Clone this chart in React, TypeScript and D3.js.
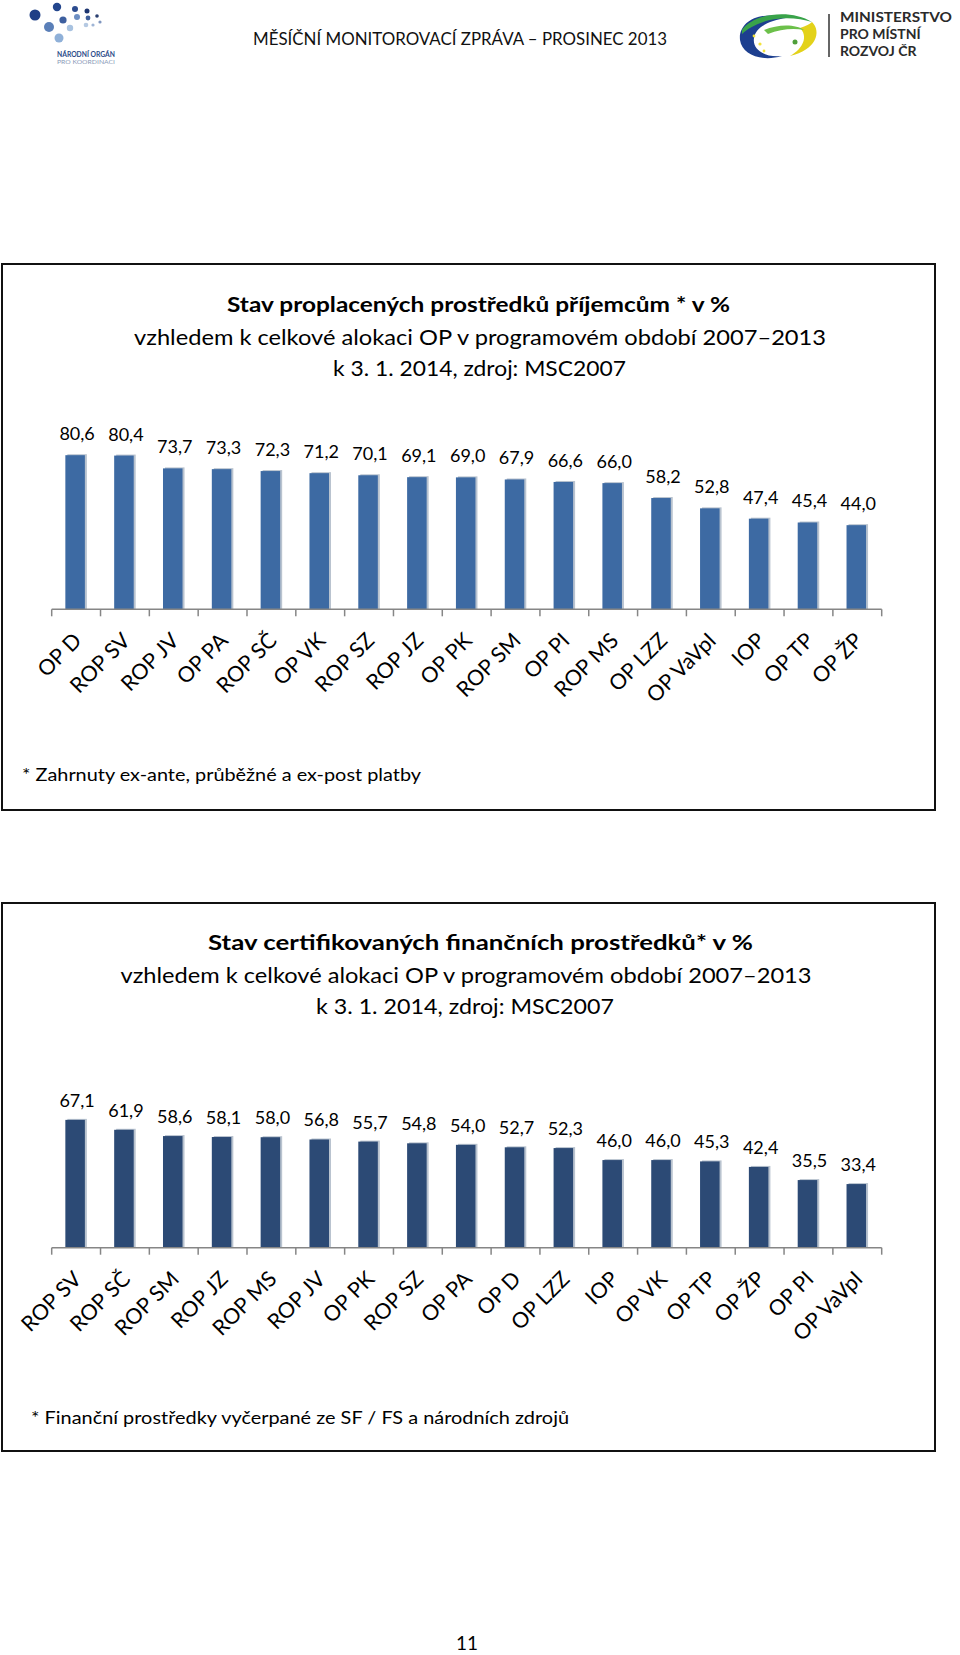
import React from 'react';
import * as d3 from 'd3';

const cats1 = ["OP D", "ROP SV", "ROP JV", "OP PA", "ROP SČ", "OP VK", "ROP SZ", "ROP JZ", "OP PK", "ROP SM", "OP PI", "ROP MS", "OP LZZ", "OP VaVpI", "IOP", "OP TP", "OP ŽP"];
const vals1 = [80.6, 80.4, 73.7, 73.3, 72.3, 71.2, 70.1, 69.1, 69.0, 67.9, 66.6, 66.0, 58.2, 52.8, 47.4, 45.4, 44.0];

const cats2 = ["ROP SV", "ROP SČ", "ROP SM", "ROP JZ", "ROP MS", "ROP JV", "OP PK", "ROP SZ", "OP PA", "OP D", "OP LZZ", "IOP", "OP VK", "OP TP", "OP ŽP", "OP PI", "OP VaVpI"];
const vals2 = [67.1, 61.9, 58.6, 58.1, 58.0, 56.8, 55.7, 54.8, 54.0, 52.7, 52.3, 46.0, 46.0, 45.3, 42.4, 35.5, 33.4];

const title1 = ["Stav proplacených prostředků příjemcům * v %", "vzhledem k celkové alokaci OP v programovém období 2007–2013", "k 3. 1. 2014, zdroj: MSC2007"];
const title2 = ["Stav certifikovaných finančních prostředků* v %", "vzhledem k celkové alokaci OP v programovém období 2007–2013", "k 3. 1. 2014, zdroj: MSC2007"];
const note1 = "* Zahrnuty ex-ante, průběžné a ex-post platby";
const note2 = "* Finanční prostředky vyčerpané ze SF / FS a národních zdrojů";
const headerText = "MĚSÍČNÍ MONITOROVACÍ ZPRÁVA – PROSINEC 2013";
const pageNo = "11";

const FONT = "Lato, 'Open Sans', sans-serif";
const fmt = (v: number) => d3.format(".1f")(v).replace(".", ",");

type ChartProps = {
  cats: string[];
  vals: number[];
  axisY: number;
  ppu: number;
  color: string;
  labelGap: number;
};

function BarChart({ cats, vals, axisY, ppu, color, labelGap }: ChartProps) {
  const x = d3.scaleBand<string>().domain(cats).range([51.7, 881.7]).paddingInner(0.6).paddingOuter(0.3);
  const y = d3.scaleLinear().domain([0, 90]).range([axisY, axisY - 90 * ppu]);
  const bw = x.bandwidth();
  const step = x.step();
  const ticks = d3.range(cats.length + 1).map((i) => 51.7 + i * step);
  return (
    <g>
      {cats.map((c, i) => {
        const bx = (x(c) as number) - 1;
        const top = y(vals[i]);
        return (
          <g key={c}>
            <rect x={bx + 2} y={top - 1} width={bw} height={axisY - top + 1} fill="#b9c3cf" />
            <rect x={bx} y={top} width={bw} height={axisY - top} fill={color} />
            <text x={bx + bw / 2 + 2} y={top - labelGap} textAnchor="middle" fontFamily={FONT} fontSize={18} fill="#000">
              {fmt(vals[i])}
            </text>
          </g>
        );
      })}
      <line x1={51.7} x2={881.7} y1={axisY} y2={axisY} stroke="#868686" strokeWidth={1.5} />
      {ticks.map((t, i) => (
        <line key={i} x1={t} x2={t} y1={axisY} y2={axisY + 7} stroke="#868686" strokeWidth={1.5} />
      ))}
      {cats.map((c) => {
        const cx = (x(c) as number) + bw / 2;
        return (
          <text key={c} transform={`translate(${cx + 1},${axisY + 27}) rotate(-45)`} textAnchor="end" dominantBaseline="central" fontFamily={FONT} fontSize={21.5} fill="#000">
            {c}
          </text>
        );
      })}
    </g>
  );
}

function Title({ lines, ys, widths, centers }: { lines: string[]; ys: number[]; widths: number[]; centers: number[] }) {
  return (
    <g fontFamily={FONT} fill="#000">
      {lines.map((l, i) => (
        <text key={i} x={centers[i]} y={ys[i]} textAnchor="middle" fontSize={21} fontWeight={i === 0 ? 700 : 400} textLength={widths[i]} lengthAdjust="spacingAndGlyphs">
          {l}
        </text>
      ))}
    </g>
  );
}

function LeftLogo() {
  const dots = [
    [35, 15, 5.5, "#1f3f86"], [57, 7, 4.2, "#23468d"], [49, 27, 5, "#5a7fb8"], [59, 38, 4.5, "#8fb0d8"],
    [63, 20, 3.6, "#3d5f9f"], [75, 9, 3, "#2c4c8f"], [77, 17, 3, "#6d8fc3"], [70, 28, 3.2, "#a8c2e0"],
    [87, 11, 2.5, "#1d3570"], [88, 18, 2.4, "#3f5f9a"], [86, 25, 2.3, "#b5c9e2"], [97, 16, 1.8, "#2a3f70"],
    [100, 22, 1.6, "#7f96bf"], [93, 25, 1.6, "#9fb5d6"],
  ] as [number, number, number, string][];
  return (
    <g>
      {dots.map((d, i) => (
        <circle key={i} cx={d[0]} cy={d[1]} r={d[2]} fill={d[3]} />
      ))}
      <text x={86} y={57} textAnchor="middle" fontFamily={FONT} fontWeight={700} fontSize={7.5} fill="#2b4a88" textLength={58} lengthAdjust="spacingAndGlyphs">NÁRODNÍ ORGÁN</text>
      <text x={86} y={64} textAnchor="middle" fontFamily={FONT} fontSize={6.5} fill="#8a9ab8" textLength={58} lengthAdjust="spacingAndGlyphs">PRO KOORDINACI</text>
    </g>
  );
}

function RightLogo() {
  return (
    <g>
      <path d="M786,18 C760,10 738,22 740,40 C742,55 762,62 782,56 C766,58 752,50 754,38 C756,26 772,20 786,18 Z" fill="#1d3f8f" />
      <path d="M742,30 C752,14 790,8 812,22 C800,18 784,17 770,20 C758,23 748,28 742,34 Z" fill="#39a34a" />
      <path d="M812,22 C822,32 816,50 790,56 C804,48 808,36 800,28 C806,26 810,24 812,22 Z" fill="#e3d21a" />
      <path d="M764,30 C778,24 796,24 804,30 C794,28 780,29 768,34 Z" fill="#6cc04a" />
      <circle cx={760} cy={44} r={1.6} fill="#f2e23a" />
      <circle cx={754} cy={36} r={1.4} fill="#f2e23a" />
      <circle cx={764} cy={51} r={1.4} fill="#f2e23a" />
      <circle cx={795} cy={42} r={2.5} fill="#4f9f3a" />
      <line x1={829} x2={829} y1={14} y2={57} stroke="#333" strokeWidth={1.5} />
      <g fontFamily={FONT} fontWeight={700} fontSize={14} fill="#2a2a2a">
        <text x={840} y={22} textLength={112} lengthAdjust="spacingAndGlyphs">MINISTERSTVO</text>
        <text x={840} y={39}>PRO MÍSTNÍ</text>
        <text x={840} y={56}>ROZVOJ ČR</text>
      </g>
    </g>
  );
}

export default function App() {
  return (
    <div style={{ position: 'absolute', left: 0, top: 0, width: 960, height: 1655, background: '#fff' }}>
      <svg width={960} height={1655} viewBox="0 0 960 1655" style={{ display: 'block' }}>
        <rect x={0} y={0} width={960} height={1655} fill="#fff" />
        <LeftLogo />
        <text x={460} y={45} textAnchor="middle" fontFamily={FONT} fontSize={17} fill="#111" textLength={414} lengthAdjust="spacingAndGlyphs">{headerText}</text>
        <RightLogo />

        <rect x={2} y={264} width={933} height={546} fill="none" stroke="#111" strokeWidth={2} />
        <Title lines={title1} ys={[312, 345, 376]} widths={[503, 692, 293]} centers={[478.5, 480, 479.5]} />
        <BarChart cats={cats1} vals={vals1} axisY={609.3} ppu={1.912} color="#3d6aa3" labelGap={15} />
        <text x={22} y={781} fontFamily={FONT} fontSize={18} fill="#000" textLength={399} lengthAdjust="spacingAndGlyphs">{note1}</text>

        <rect x={2} y={903} width={933} height={548} fill="none" stroke="#111" strokeWidth={2} />
        <Title lines={title2} ys={[950, 983, 1014]} widths={[545, 691, 298]} centers={[480.5, 466, 465]} />
        <BarChart cats={cats2} vals={vals2} axisY={1247.7} ppu={1.905} color="#2c4a75" labelGap={13} />
        <text x={31} y={1424} fontFamily={FONT} fontSize={18} fill="#000" textLength={538} lengthAdjust="spacingAndGlyphs">{note2}</text>

        <text x={467} y={1650} textAnchor="middle" fontFamily={FONT} fontSize={19} fill="#000">{pageNo}</text>
      </svg>
    </div>
  );
}
